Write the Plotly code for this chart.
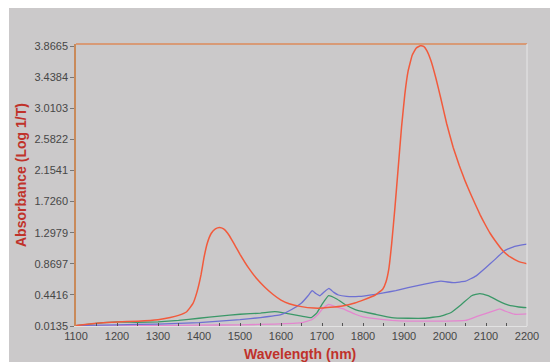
import plotly.graph_objects as go

# ---------------- data ----------------
red_wl = [1100, 1150, 1200, 1250, 1300, 1330, 1350, 1370, 1385, 1395, 1405, 1412, 1420, 1430, 1440, 1450,
          1460, 1470, 1480, 1490, 1500, 1520, 1540, 1560, 1580, 1600, 1620, 1650, 1680, 1700, 1720, 1750,
          1780, 1800, 1830, 1848, 1856, 1863, 1870, 1878, 1886, 1894, 1902, 1910, 1920, 1930, 1940, 1948,
          1956, 1966, 1978, 1990, 2004, 2020, 2035, 2049, 2061, 2073, 2086, 2098, 2110, 2122, 2141, 2160,
          2180, 2200]
red_abs = [0.02, 0.05, 0.07, 0.08, 0.10, 0.13, 0.16, 0.21, 0.32, 0.48, 0.72, 0.95, 1.15, 1.29, 1.35, 1.37,
           1.35, 1.29, 1.20, 1.10, 1.00, 0.82, 0.67, 0.55, 0.45, 0.37, 0.32, 0.28, 0.26, 0.26, 0.27, 0.29,
           0.33, 0.37, 0.44, 0.52, 0.62, 0.80, 1.15, 1.65, 2.20, 2.75, 3.20, 3.52, 3.74, 3.84, 3.87, 3.86,
           3.80, 3.66, 3.42, 3.14, 2.80, 2.47, 2.22, 2.01, 1.85, 1.70, 1.54, 1.41, 1.29, 1.19, 1.05, 0.96,
           0.90, 0.87]

blue_wl = [1100, 1200, 1300, 1400, 1500, 1550, 1600, 1626, 1650, 1666, 1676, 1685, 1695, 1705, 1717, 1728,
           1740, 1760, 1790, 1830, 1850, 1880, 1910, 1950, 1990, 2020, 2050, 2075, 2100, 2120, 2145, 2170, 2200]
blue_abs = [0.02, 0.03, 0.04, 0.06, 0.10, 0.13, 0.17, 0.24, 0.33, 0.43, 0.50, 0.46, 0.43, 0.48, 0.53, 0.48,
            0.44, 0.42, 0.42, 0.45, 0.47, 0.50, 0.54, 0.59, 0.63, 0.61, 0.63, 0.70, 0.82, 0.92, 1.05, 1.11, 1.14]

green_wl = [1100, 1150, 1200, 1250, 1300, 1350, 1400, 1450, 1500, 1550, 1585, 1610, 1630, 1650, 1674, 1687,
            1700, 1716, 1736, 1756, 1781, 1800, 1830, 1870, 1910, 1950, 1990, 2015, 2040, 2065, 2085, 2105,
            2130, 2155, 2180, 2200]
green_abs = [0.02, 0.05, 0.07, 0.065, 0.07, 0.09, 0.12, 0.15, 0.175, 0.19, 0.21, 0.19, 0.17, 0.15, 0.13, 0.19,
             0.31, 0.43, 0.385, 0.31, 0.24, 0.21, 0.175, 0.13, 0.12, 0.12, 0.15, 0.20, 0.31, 0.43, 0.46, 0.43,
             0.36, 0.30, 0.275, 0.265]

pink_wl = [1100, 1200, 1300, 1400, 1500, 1585, 1650, 1675, 1690, 1703, 1716, 1736, 1756, 1781, 1800, 1830,
           1870, 1910, 1990, 2050, 2080, 2106, 2134, 2146, 2170, 2200]
pink_abs = [0.01, 0.015, 0.02, 0.025, 0.03, 0.04, 0.06, 0.10, 0.17, 0.26, 0.31, 0.275, 0.24, 0.175, 0.14, 0.115,
            0.09, 0.08, 0.08, 0.09, 0.15, 0.196, 0.25, 0.22, 0.175, 0.18]

y_ticks = [0.0135, 0.4416, 0.8697, 1.2979, 1.7260, 2.1541, 2.5822, 3.0103, 3.4384, 3.8665]
y_tick_text = ["0.0135", "0.4416", "0.8697", "1.2979", "1.7260", "2.1541", "2.5822", "3.0103", "3.4384", "3.8665"]
x_ticks = [1100, 1200, 1300, 1400, 1500, 1600, 1700, 1800, 1900, 2000, 2100, 2200]

# ---------------- figure ----------------
W, H = 550, 362
ML, MR, MT, MB = 76, 23, 44, 36
PW, PH = W - ML - MR, H - MT - MB
BG = "#cbc9ca"

fig = go.Figure()
for wl, ab, col, w in [(pink_wl, pink_abs, "#e486cf", 1.3),
                       (green_wl, green_abs, "#3b9868", 1.3),
                       (blue_wl, blue_abs, "#6e70d2", 1.3),
                       (red_wl, red_abs, "#f25a3c", 1.5)]:
    fig.add_trace(go.Scatter(x=wl, y=ab, mode="lines",
                             line=dict(color=col, width=w, shape="spline", smoothing=0.3),
                             hoverinfo="skip", showlegend=False))

def px_x(p):
    return (p - ML) / PW

def px_y(p):
    return (H - MB - p) / PH

shapes = [
    dict(type="rect", xref="paper", yref="paper", x0=px_x(9), x1=px_x(550), y0=px_y(362), y1=px_y(8),
         fillcolor=BG, line=dict(width=0), layer="below"),
    dict(type="line", xref="paper", yref="paper", x0=0, x1=1, y0=1, y1=1,
         line=dict(color="#dc8a5a", width=1.5)),
    dict(type="line", xref="paper", yref="paper", x0=1, x1=1, y0=0, y1=1,
         line=dict(color="#e2e2e2", width=1.2)),
]

annotations = [
    dict(text="<b>Absorbance (Log 1/T)</b>", xref="paper", yref="paper", x=px_x(21), y=px_y(175),
         textangle=-90, showarrow=False, font=dict(family="Liberation Sans, Arial", size=14, color="#c0322a"),
         xanchor="center", yanchor="middle"),
    dict(text="<b>Wavelength (nm)</b>", xref="paper", yref="paper", x=px_x(300), y=px_y(354),
         showarrow=False, font=dict(family="Liberation Sans, Arial", size=14, color="#c0322a"),
         xanchor="center", yanchor="middle"),
]

fig.update_layout(
    width=W, height=H,
    margin=dict(l=ML, r=MR, t=MT, b=MB, pad=0),
    paper_bgcolor="white", plot_bgcolor=BG,
    shapes=shapes, annotations=annotations,
    font=dict(family="Liberation Sans, Arial", size=11, color="#474747"),
    xaxis=dict(range=[1100, 2200], tickvals=x_ticks, ticks="inside", ticklen=3, tickcolor="#555555",
               showgrid=False, zeroline=False, showline=True, linecolor="#e2e2e2", linewidth=1,
               tickfont=dict(size=11, color="#474747"),
               minor=dict(dtick=50, tick0=1100, ticks="inside", ticklen=3, tickcolor="#555555", showgrid=False)),
    yaxis=dict(range=[0.0135, 3.894], tickvals=y_ticks, ticktext=y_tick_text, ticks="outside", ticklen=4,
               tickcolor="#777777", showgrid=False, zeroline=False, showline=True, linecolor="#c98a5a",
               linewidth=1.5, tickfont=dict(size=11, color="#474747")),
)

fig.write_html("out.html")
